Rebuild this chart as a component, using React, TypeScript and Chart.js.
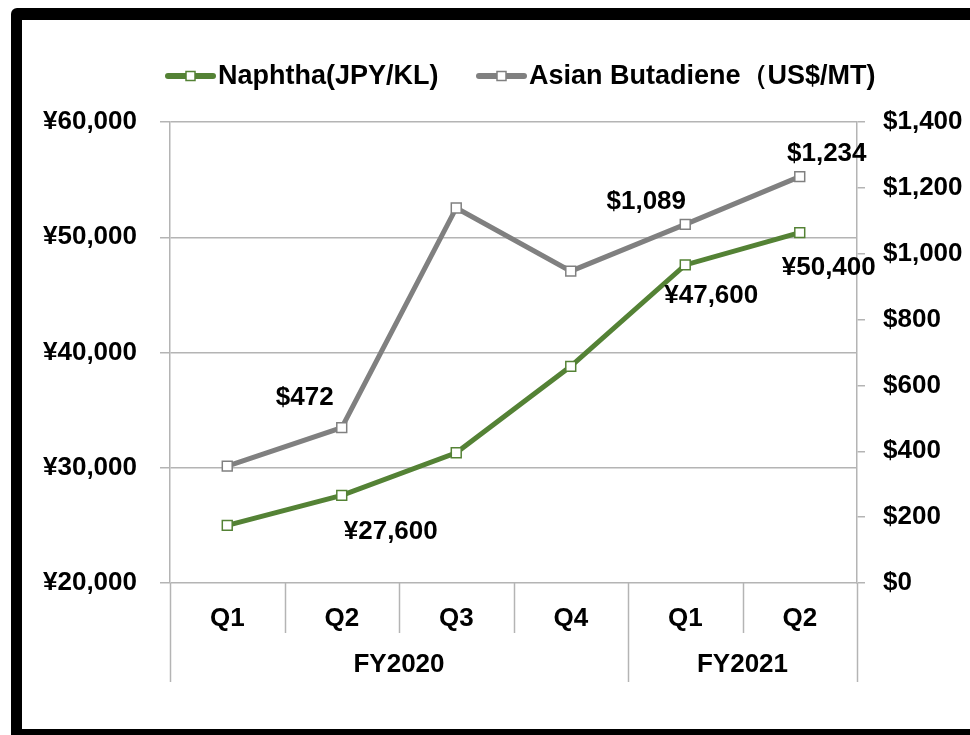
import React, { useEffect, useRef } from "react";
import { Chart, registerables } from "chart.js";

Chart.register(...registerables);

// ---- data ----
const quarters = ["Q1", "Q2", "Q3", "Q4", "Q1", "Q2"];
const fiscalYears = ["FY2020", "FY2021"];
const fiscalYearSpans = [4, 2];
const naphthaJPY = [25000, 27600, 31300, 38800, 47600, 50400];
const butadieneUSD = [355, 472, 1139, 947, 1089, 1234];
const naphthaLabelIndexes = [1, 4, 5];
const butadieneLabelIndexes = [1, 4, 5];
const leftAxis = { min: 20000, max: 60000, step: 10000 };
const rightAxis = { min: 0, max: 1400, step: 200 };
const legendLabels = ["Naphtha(JPY/KL)", "Asian Butadiene（US$/MT)"];

// ---- styles ----
const GREEN = "#548235";
const GRAY = "#808080";
const GRID = "#b4b4b4";
const FONT_FAMILY = '"Liberation Sans", Arial, Helvetica, sans-serif';
const FONT = `bold 26px ${FONT_FAMILY}`;
const LEGEND_FONT = `bold 27px ${FONT_FAMILY}`;
const naphthaLabelOffsets: Record<number, [number, number]> = { 1: [49, 36], 4: [26, 31], 5: [29, 35] };
const butadieneLabelOffsets: Record<number, [number, number]> = { 1: [-37, -30], 4: [-39, -23], 5: [27, -23] };

const fmtYen = (v: number) => "¥" + v.toLocaleString("en-US");
const fmtUsd = (v: number) => "$" + v.toLocaleString("en-US");

const decorPlugin = {
  id: "decor",
  afterDraw(chart: any) {
    const ctx = chart.ctx as CanvasRenderingContext2D;
    const area = chart.chartArea;
    const n = quarters.length;
    const step = (area.right - area.left) / n;
    ctx.save();

    // category separators
    ctx.strokeStyle = GRID;
    ctx.lineWidth = 1.5;
    const groupBounds = new Set<number>([0]);
    let acc = 0;
    fiscalYearSpans.forEach((s) => { acc += s; groupBounds.add(acc); });
    for (let k = 0; k <= n; k++) {
      const x = Math.round(area.left + k * step) + 0.5;
      const yEnd = groupBounds.has(k) ? area.bottom + 99 : area.bottom + 50;
      ctx.beginPath();
      ctx.moveTo(x, area.bottom);
      ctx.lineTo(x, yEnd);
      ctx.stroke();
    }

    // fiscal-year labels
    ctx.fillStyle = "#000";
    ctx.font = FONT;
    ctx.textAlign = "center";
    ctx.textBaseline = "middle";
    let start = 0;
    fiscalYears.forEach((fy, i) => {
      const x0 = area.left + start * step;
      const x1 = area.left + (start + fiscalYearSpans[i]) * step;
      ctx.fillText(fy, (x0 + x1) / 2, area.bottom + 82);
      start += fiscalYearSpans[i];
    });

    // data labels
    const drawLabels = (dsIndex: number, idxs: number[], offsets: Record<number, [number, number]>, fmt: (v: number) => string, values: number[]) => {
      const meta = chart.getDatasetMeta(dsIndex);
      idxs.forEach((i) => {
        const pt = meta.data[i];
        const [dx, dy] = offsets[i];
        ctx.fillText(fmt(values[i]), pt.x + dx, pt.y + dy);
      });
    };
    drawLabels(0, naphthaLabelIndexes, naphthaLabelOffsets, fmtYen, naphthaJPY);
    drawLabels(1, butadieneLabelIndexes, butadieneLabelOffsets, fmtUsd, butadieneUSD);

    // legend
    const legendItems = [
      { x: 166, color: GREEN, text: legendLabels[0] },
      { x: 477, color: GRAY, text: legendLabels[1] },
    ];
    const ly = 76;
    legendItems.forEach((it) => {
      ctx.strokeStyle = it.color;
      ctx.lineWidth = 6;
      ctx.lineCap = "round";
      ctx.beginPath();
      ctx.moveTo(it.x + 2, ly);
      ctx.lineTo(it.x + 47, ly);
      ctx.stroke();
      ctx.lineCap = "butt";
      ctx.fillStyle = "#fff";
      ctx.lineWidth = 1.5;
      ctx.fillRect(it.x + 20, ly - 4.5, 9, 9);
      ctx.strokeRect(it.x + 20, ly - 4.5, 9, 9);
      ctx.fillStyle = "#000";
      ctx.textAlign = "left";
      ctx.textBaseline = "middle";
      ctx.font = LEGEND_FONT;
      ctx.fillText(it.text, it.x + 52, ly + 1);
    });

    ctx.restore();
  },
};

export default function App() {
  const ref = useRef<HTMLCanvasElement | null>(null);

  useEffect(() => {
    if (!ref.current) return;
    const chart = new Chart(ref.current, {
      type: "line",
      data: {
        labels: quarters,
        datasets: [
          {
            label: legendLabels[0],
            data: naphthaJPY,
            yAxisID: "yL",
            borderColor: GREEN,
            borderWidth: 5,
            pointStyle: "rect",
            pointRadius: 7,
            pointBorderWidth: 1.5,
            pointBackgroundColor: "#fff",
            pointBorderColor: GREEN,
            tension: 0,
          },
          {
            label: legendLabels[1],
            data: butadieneUSD,
            yAxisID: "yR",
            borderColor: GRAY,
            borderWidth: 5,
            pointStyle: "rect",
            pointRadius: 7,
            pointBorderWidth: 1.5,
            pointBackgroundColor: "#fff",
            pointBorderColor: GRAY,
            tension: 0,
          },
        ],
      },
      options: {
        responsive: false,
        animation: false,
        layout: { padding: { top: 122, left: 0, right: 0, bottom: 0 } },
        plugins: { legend: { display: false }, tooltip: { enabled: false } },
        scales: {
          x: {
            type: "category",
            offset: true,
            grid: { display: false, drawTicks: false },
            border: { display: false },
            ticks: { color: "#000", font: { family: FONT_FAMILY, size: 26, weight: "bold" }, padding: 20, maxRotation: 0 },
            afterFit: (s: any) => { s.height = 152; },
          },
          yL: {
            position: "left",
            min: leftAxis.min,
            max: leftAxis.max,
            grid: { color: GRID, lineWidth: 1.5, tickLength: 10, drawTicks: true },
            border: { display: true, color: GRID, width: 1.5 },
            ticks: {
              stepSize: leftAxis.step,
              color: "#000",
              font: { family: FONT_FAMILY, size: 26, weight: "bold" },
              padding: 23,
              callback: (v: any) => fmtYen(Number(v)),
            },
            afterFit: (s: any) => { s.width = 170; },
          },
          yR: {
            position: "right",
            min: rightAxis.min,
            max: rightAxis.max,
            grid: { drawOnChartArea: false, color: GRID, lineWidth: 1.5, tickLength: 8, drawTicks: true },
            border: { display: true, color: GRID, width: 1.5 },
            ticks: {
              stepSize: rightAxis.step,
              color: "#000",
              font: { family: FONT_FAMILY, size: 26, weight: "bold" },
              padding: 18,
              callback: (v: any) => fmtUsd(Number(v)),
            },
            afterFit: (s: any) => { s.width = 113; },
          },
        },
      },
      plugins: [decorPlugin],
    } as any);
    return () => chart.destroy();
  }, []);

  return (
    <div style={{ position: "fixed", left: 0, top: 0, width: 970, height: 735, overflow: "hidden", background: "#fff" }}>
      <canvas ref={ref} width={970} height={735} style={{ position: "absolute", left: 0, top: 0, width: 970, height: 735 }} />
      <div
        style={{
          position: "absolute",
          left: 11,
          top: 8,
          width: 1000,
          height: 733,
          boxSizing: "border-box",
          borderStyle: "solid",
          borderColor: "#000",
          borderWidth: "12px 11px 12px 11px",
          borderRadius: 6,
          pointerEvents: "none",
        }}
      />
    </div>
  );
}
